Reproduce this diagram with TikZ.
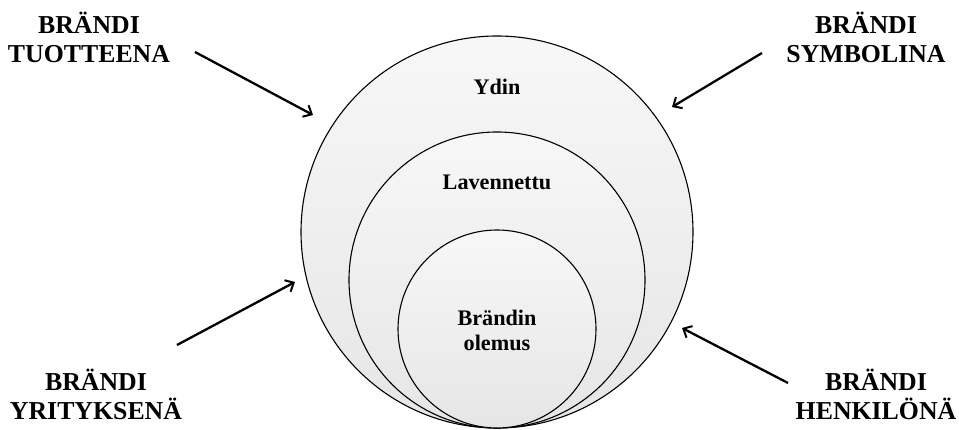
\documentclass[tikz,border=0pt]{standalone}
\usepackage{fontspec}
\setmainfont{Liberation Serif}
\usetikzlibrary{arrows.meta}
\begin{document}
\begin{tikzpicture}[x=1pt,y=1pt,
  ring/.style={circle,draw=black,line width=1.1pt,inner sep=0pt,
    top color=gray!6,bottom color=gray!20},
  sidelabel/.style={align=center,font=\bfseries\fontsize{25.8}{29}\selectfont},
  ringlabel/.style={align=center,font=\bfseries\fontsize{22.2}{25}\selectfont},
  pointer/.style={line width=2.3pt,-{Straight Barb[length=7pt,width=13pt,line width=2pt]}}]
\useasboundingbox (0,0) rectangle (959,430);
% nested brand layers, all touching at the bottom
\node[ring,minimum size=392pt] (outer) at (497,198) {};
\node[ring,minimum size=296pt] (middle) at (497,150) {};
\node[ring,minimum size=198pt] (inner) at (497,101) {};
\node[ringlabel] (ydin) at (497,343) {Ydin};
\node[ringlabel] (lav) at (497,248) {Lavennettu};
\node[ringlabel] (olemus) at (497,100) {Brändin\\olemus};
% four perspectives around the layers
\node[sidelabel] (tuote) at (89,393) {BRÄNDI\\TUOTTEENA};
\node[sidelabel] (symboli) at (866,393) {BRÄNDI\\SYMBOLINA};
\node[sidelabel] (yritys) at (96,36) {BRÄNDI\\YRITYKSENÄ};
\node[sidelabel] (henkilo) at (876,36) {BRÄNDI\\HENKILÖNÄ};
\coordinate (tlA) at (195,378); \coordinate (tlB) at (313,315);
\coordinate (trA) at (762,377); \coordinate (trB) at (672,323);
\coordinate (blA) at (177,85);  \coordinate (blB) at (295,148);
\coordinate (brA) at (788,47);  \coordinate (brB) at (682,102);
\draw[pointer] (tlA) -- (tlB);
\draw[pointer] (trA) -- (trB);
\draw[pointer] (blA) -- (blB);
\draw[pointer] (brA) -- (brB);
\end{tikzpicture}
\end{document}
